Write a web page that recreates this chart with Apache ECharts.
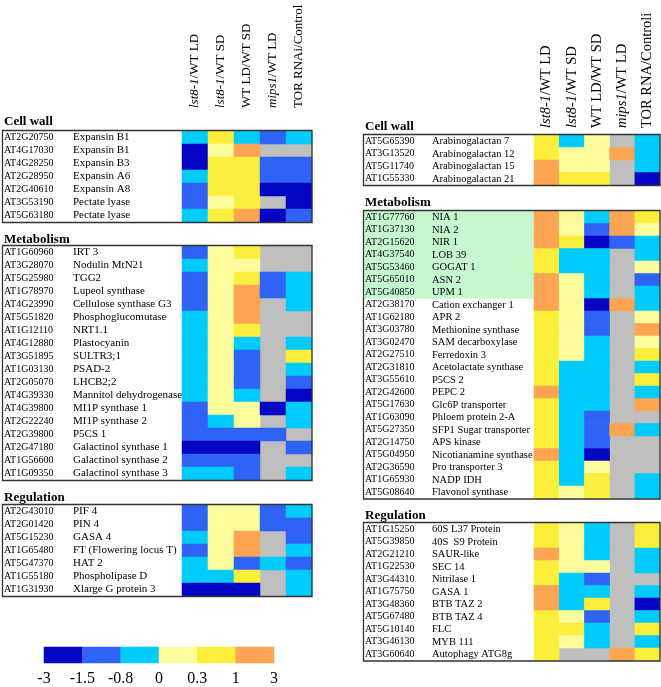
<!DOCTYPE html>
<html><head><meta charset="utf-8">
<script src="https://cdn.jsdelivr.net/npm/echarts@6/dist/echarts.min.js"></script>
<style>html,body{margin:0;padding:0;background:#fff}#c{width:661px;height:687px}</style>
</head><body><div id="c"></div>
<script>
// ---- DATA (log2 ratio classes; null = no data / grey) ----
const leftColumns = ['lst8-1/WT LD','lst8-1/WT SD','WT LD/WT SD','mips1/WT LD','TOR RNAi/Control'];
const rightColumns = ['lst8-1/WT LD','lst8-1/WT SD','WT LD/WT SD','mips1/WT LD','TOR RNA/Controli'];
const sectionTitles = ['Cell wall','Metabolism','Regulation'];

const leftCellWallCodes = ['AT2G20750','AT4G17030','AT4G28250','AT2G28950','AT2G40610','AT3G53190','AT5G63180'];
const leftCellWallNames = ['Expansin B1','Expansin B1','Expansin B3','Expansin A6','Expansin A8','Pectate lyase','Pectate lyase'];
const leftCellWallValues = [
  [-0.4, 0.6, -0.4, -1.1, -0.4],
  [-2, 0.15, 1.8, null, null],
  [-2, 0.6, 0.6, -1.1, -1.1],
  [-0.4, 0.6, 0.6, -1.1, -1.1],
  [-1.1, 0.6, 0.6, -2, -2],
  [-1.1, 0.15, 0.6, null, -2],
  [-0.4, 0.6, 1.8, -2, -1.1]
];

const leftMetabolismCodes = ['AT1G60960','AT3G28070','AT5G25980','AT1G78970','AT4G23990','AT5G51820','AT1G12110','AT4G12880','AT3G51895','AT1G03130','AT2G05070','AT4G39330','AT4G39800','AT2G22240','AT2G39800','AT2G47180','AT1G56600','AT1G09350'];
const leftMetabolismNames = ['IRT 3','Nodulin MtN21','TGG2','Lupeol synthase','Cellulose synthase G3','Phosphoglucomutase','NRT1.1','Plastocyanin','SULTR3;1','PSAD-2','LHCB2;2','Mannitol dehydrogenase','MI1P synthase 1','MI1P synthase 2','P5CS 1','Galactinol synthase 1','Galactinol synthase 2','Galactinol synthase 3'];
const leftMetabolismValues = [
  [-1.1, 0.15, 0.6, null, null],
  [-0.4, 0.15, 0.15, null, null],
  [-1.1, 0.15, 0.6, -1.1, -0.4],
  [-1.1, 0.15, 1.8, -1.1, -0.4],
  [-1.1, 0.15, 1.8, null, -0.4],
  [-0.4, 0.15, 1.8, null, null],
  [-0.4, 0.15, 0.6, null, null],
  [-0.4, 0.15, -0.4, null, -0.4],
  [-0.4, 0.15, -1.1, null, 0.6],
  [-0.4, 0.15, -1.1, null, -0.4],
  [-0.4, 0.15, -1.1, null, -1.1],
  [-0.4, 0.15, -0.4, null, -2],
  [-1.1, 0.15, 0.15, -2, -0.4],
  [-1.1, -0.4, 0.15, null, -0.4],
  [-1.1, -1.1, -1.1, -1.1, null],
  [-2, -2, -2, null, -1.1],
  [-1.1, -1.1, -1.1, null, null],
  [-0.4, -0.4, -1.1, null, -0.4]
];

const leftRegulationCodes = ['AT2G43010','AT2G01420','AT5G15230','AT1G65480','AT5G47370','AT1G55180','AT1G31930'];
const leftRegulationNames = ['PIF 4','PIN 4','GASA 4','FT (Flowering locus T)','HAT 2','Phospholipase D','Xlarge G protein 3'];
const leftRegulationValues = [
  [-1.1, 0.15, 0.15, -1.1, -0.4],
  [-1.1, 0.15, 0.15, -1.1, -1.1],
  [-0.4, 0.15, 1.8, null, -1.1],
  [-1.1, 0.15, 1.8, null, -0.4],
  [-0.4, 0.15, -1.1, -0.4, -1.1],
  [-0.4, -0.4, 0.6, null, -0.4],
  [-2, -2, -2, null, -0.4]
];

const rightCellWallCodes = ['AT5G65390','AT3G13520','AT5G11740','AT1G55330'];
const rightCellWallNames = ['Arabinogalactan 7','Arabinogalactan 12','Arabinogalactan 15','Arabinogalactan 21'];
const rightCellWallValues = [
  [0.6, -0.4, 0.15, null, -0.4],
  [0.6, 0.15, 0.15, 1.8, -0.4],
  [1.8, 0.15, 0.15, null, -0.4],
  [1.8, 0.6, 0.6, null, -2]
];

const rightMetabolismCodes = ['AT1G77760','AT1G37130','AT2G15620','AT4G37540','AT5G53460','AT5G65010','AT5G40850','AT2G38170','AT1G62180','AT3G03780','AT3G02470','AT2G27510','AT2G31810','AT3G55610','AT2G42600','AT5G17630','AT1G63090','AT5G27350','AT2G14750','AT5G04950','AT2G36590','AT1G65930','AT5G08640'];
const rightMetabolismNames = ['NIA 1','NIA 2','NIR 1','LOB 39','GOGAT 1','ASN 2','UPM 1','Cation exchanger 1','APR 2','Methionine synthase','SAM decarboxylase','Ferredoxin 3','Acetolactate synthase','P5CS 2','PEPC 2','Glc6P transporter','Phloem protein 2-A','SFP1 Sugar transporter','APS kinase','Nicotianamine synthase','Pro transporter 3','NADP IDH','Flavonol synthase'];
const rightMetabolismValues = [
  [1.8, 0.15, -0.4, 1.8, 0.6],
  [1.8, 0.15, -1.1, 1.8, 0.15],
  [1.8, 0.6, -2, -1.1, -0.4],
  [0.6, -0.4, -0.4, null, -0.4],
  [0.6, -0.4, -0.4, null, 0.15],
  [1.8, 0.15, -0.4, null, -1.1],
  [1.8, 0.15, -0.4, null, -0.4],
  [1.8, 0.15, -2, 1.8, -0.4],
  [0.6, 0.15, -1.1, null, 0.15],
  [0.6, 0.15, -1.1, null, 1.8],
  [0.6, 0.15, -0.4, null, 0.15],
  [0.6, 0.15, -0.4, null, 0.6],
  [0.6, -0.4, -0.4, null, -0.4],
  [0.6, -0.4, -0.4, null, 0.6],
  [1.8, -0.4, -0.4, null, -0.4],
  [0.6, -0.4, -0.4, null, 1.8],
  [0.6, -0.4, -1.1, null, null],
  [0.6, -0.4, -1.1, 1.8, -0.4],
  [0.6, -0.4, -1.1, null, null],
  [1.8, -0.4, -2, null, null],
  [0.6, -0.4, 0.15, null, null],
  [0.6, -0.4, 0.6, null, -0.4],
  [0.6, 0.15, 0.6, null, -0.4]
];
const rightMetabolismHighlightRows = 7; // NIA 1 .. UPM 1 shaded green

const rightRegulationCodes = ['AT1G15250','AT5G39850','AT2G21210','AT1G22530','AT3G44310','AT1G75750','AT3G48360','AT5G67480','AT5G10140','AT3G46130','AT3G60640'];
const rightRegulationNames = ['60S L37 Protein','40S  S9 Protein','SAUR-like','SEC 14','Nitrilase 1','GASA 1','BTB TAZ 2','BTB TAZ 4','FLC','MYB 111','Autophagy ATG8g'];
const rightRegulationValues = [
  [0.6, 0.15, -0.4, null, 0.6],
  [0.6, 0.15, -0.4, null, 0.6],
  [1.8, 0.15, -0.4, null, -0.4],
  [0.6, 0.15, 0.15, null, -0.4],
  [0.6, -0.4, -1.1, null, null],
  [1.8, -0.4, -0.4, null, -0.4],
  [1.8, -0.4, 0.6, null, -2],
  [0.6, 0.15, -1.1, null, -0.4],
  [0.6, 0.6, -0.4, null, 0.6],
  [0.6, 0.15, -0.4, null, -0.4],
  [0.6, null, null, 1.8, 0.6]
];

const legendTickLabels = ['-3','-1.5','-0.8','0','0.3','1','3'];
const legendClassValues = [-2, -1.1, -0.4, 0.15, 0.6, 1.8];
const classBreaks = [-1.5, -0.8, 0, 0.3, 1];

// ---- STYLE / LAYOUT ----
const COLORS = ['#0505c4','#2f63f5','#00cbfd','#fdfc9c','#fbef3c','#fda552'];
const GREY = '#bfbfbf';
const SERIF = '"Liberation Serif", "Times New Roman", serif';

const LP = {cellL:182, cellR:312, boxL:2, codeX:4, nameOff:69, rowH:13, codeFs:10, nameFs:11, hdrFs:13, hdrMargin:23,
  tops:[131,246,505], titleY:[122,240,498], titleX:4};
const RP = {cellL:534, cellR:660, boxL:363, codeX:365, nameOff:67, rowH:12.5, codeFs:10, nameFs:10.5, hdrFs:14.5, hdrMargin:7,
  tops:[135,211,523], titleY:[127,203,516], titleX:365};

const panels = [
  {P:LP, cols:leftColumns, sections:[
    [leftCellWallCodes,leftCellWallNames,leftCellWallValues],
    [leftMetabolismCodes,leftMetabolismNames,leftMetabolismValues],
    [leftRegulationCodes,leftRegulationNames,leftRegulationValues]]},
  {P:RP, cols:rightColumns, sections:[
    [rightCellWallCodes,rightCellWallNames,rightCellWallValues],
    [rightMetabolismCodes,rightMetabolismNames,rightMetabolismValues],
    [rightRegulationCodes,rightRegulationNames,rightRegulationValues]]}
];

function headerFmt(s){
  const m = s.match(/^(lst8-1|mips1)(.*)$/);
  return m ? '{i|'+m[1]+'}'+m[2] : s;
}

const grid=[], xAxis=[], yAxis=[], series=[], title=[], graphics=[];
panels.forEach((pan,pi)=>{
  const P = pan.P;
  pan.sections.forEach((sec,si)=>{
    const [codes,names,vals] = sec;
    const gi = grid.length;
    const h = codes.length*P.rowH;
    grid.push({left:P.cellL, top:P.tops[si], width:P.cellR-P.cellL, height:h,
      show:true, backgroundColor:GREY, borderWidth:0, containLabel:false});
    xAxis.push({type:'category', gridIndex:gi, data:pan.cols, position:'top',
      show: si===0,
      axisLine:{show:false}, axisTick:{show:false}, splitLine:{show:false},
      axisLabel:{show: si===0, interval:0, rotate:-90, margin:P.hdrMargin, color:'#000',
        fontFamily:SERIF, fontSize:P.hdrFs, formatter:headerFmt,
        rich:{i:{fontStyle:'italic', fontFamily:SERIF, fontSize:P.hdrFs, color:'#000'}}}});
    yAxis.push({type:'category', gridIndex:gi, data:codes, inverse:true,
      axisLine:{show:false}, axisTick:{show:false}, splitLine:{show:false},
      axisLabel:{interval:0, align:'left', margin:P.cellL-P.codeX, color:'#000',
        formatter:(v,i)=>'{a|'+v+'}{b|'+names[i]+'}',
        rich:{a:{width:P.nameOff, fontFamily:SERIF, fontSize:P.codeFs, color:'#000'},
              b:{fontFamily:SERIF, fontSize:P.nameFs, color:'#000'}}}});
    const data=[];
    vals.forEach((row,r)=>row.forEach((v,c)=>{ if(v!==null) data.push([c,r,v]); }));
    series.push({type:'heatmap', xAxisIndex:gi, yAxisIndex:gi, data,
      itemStyle:{borderWidth:0}, emphasis:{disabled:true}, silent:true});
    title.push({text:sectionTitles[si], left:P.titleX, top:P.titleY[si]-7, padding:0,
      textStyle:{fontFamily:SERIF, fontSize:13, fontWeight:'bold', color:'#000'}});
    graphics.push({type:'rect', z:100, silent:true,
      shape:{x:P.boxL+0.5, y:P.tops[si]-0.5, width:P.cellR-P.boxL-0.5, height:h+1},
      style:{fill:null, stroke:'#333', lineWidth:1.3}});
    if (pi===1 && si===1) {
      graphics.push({type:'rect', z:-10, silent:true,
        shape:{x:P.boxL, y:P.tops[si], width:P.cellL-P.boxL, height:rightMetabolismHighlightRows*P.rowH},
        style:{fill:'#c6f8d0'}});
    }
  });
});

// legend bar
const lgi = grid.length;
grid.push({left:44, top:647, width:230, height:18, show:false});
xAxis.push({type:'category', gridIndex:lgi, data:legendClassValues.map(String), show:false});
xAxis.push({type:'value', gridIndex:lgi, min:0, max:legendTickLabels.length-1, interval:1, position:'bottom',
  axisLine:{show:false}, axisTick:{show:false}, splitLine:{show:false},
  axisLabel:{margin:8, color:'#000', fontFamily:SERIF, fontSize:16, showMinLabel:true, showMaxLabel:true,
    formatter:v=>legendTickLabels[v]}});
yAxis.push({type:'category', gridIndex:lgi, data:['k'], show:false});
series.push({type:'heatmap', xAxisIndex:xAxis.length-2, yAxisIndex:lgi,
  data:legendClassValues.map((v,i)=>[i,0,v]), itemStyle:{borderWidth:0}, emphasis:{disabled:true}, silent:true});

const pieces = [];
for (let k=0;k<COLORS.length;k++){
  const p = {color:COLORS[k]};
  if (k>0) p.gte = classBreaks[k-1];
  if (k<classBreaks.length) p.lt = classBreaks[k];
  pieces.push(p);
}

const chart = echarts.init(document.getElementById('c'), null, {renderer:'canvas'});
chart.setOption({
  animation:false,
  backgroundColor:'#fff',
  title, grid, xAxis, yAxis, series,
  visualMap:{type:'piecewise', show:false, dimension:2, pieces},
  graphic:{elements:graphics}
});
</script>
</body></html>
